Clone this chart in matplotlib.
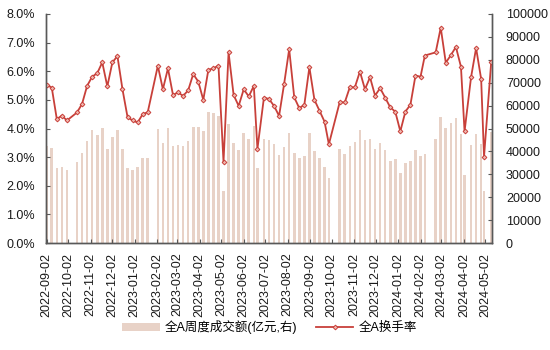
import matplotlib
matplotlib.use("Agg")
import matplotlib.pyplot as plt
import numpy as np
import pandas as pd

plt.rcParams['font.family'] = ['Liberation Sans', 'Noto Sans CJK SC']
plt.rcParams['axes.unicode_minus'] = False

# weekly data (last trading day of each week)
dates = pd.to_datetime([
    "2022-09-02", "2022-09-09", "2022-09-16", "2022-09-23", "2022-09-30",
    "2022-10-14", "2022-10-21", "2022-10-28", "2022-11-04", "2022-11-11",
    "2022-11-18", "2022-11-25", "2022-12-02", "2022-12-09", "2022-12-16",
    "2022-12-23", "2022-12-30", "2023-01-06", "2023-01-13", "2023-01-20",
    "2023-02-03", "2023-02-10", "2023-02-17", "2023-02-24", "2023-03-03",
    "2023-03-10", "2023-03-17", "2023-03-24", "2023-03-31", "2023-04-07",
    "2023-04-14", "2023-04-21", "2023-04-28", "2023-05-05", "2023-05-12",
    "2023-05-19", "2023-05-26", "2023-06-02", "2023-06-09", "2023-06-16",
    "2023-06-21", "2023-06-30", "2023-07-07", "2023-07-14", "2023-07-21",
    "2023-07-28", "2023-08-04", "2023-08-11", "2023-08-18", "2023-08-25",
    "2023-09-01", "2023-09-08", "2023-09-15", "2023-09-22", "2023-09-28",
    "2023-10-13", "2023-10-20", "2023-10-27", "2023-11-03", "2023-11-10",
    "2023-11-17", "2023-11-24", "2023-12-01", "2023-12-08", "2023-12-15",
    "2023-12-22", "2023-12-29", "2024-01-05", "2024-01-12", "2024-01-19",
    "2024-01-26", "2024-02-02", "2024-02-08", "2024-02-23", "2024-03-01",
    "2024-03-08", "2024-03-15", "2024-03-22", "2024-03-29", "2024-04-03",
    "2024-04-12", "2024-04-19", "2024-04-26", "2024-04-30", "2024-05-10",
])

# 全A周度成交额 (亿元, right axis)
volume = [
    42500, 41300, 32700, 33100, 32000,
    35500, 39100, 44700, 49300, 47200,
    50100, 40900, 46200, 49300, 41200,
    32700, 32000, 33100, 37300, 37300,
    49700, 43600, 50100, 42300, 43000,
    42300, 44700, 50500, 50800, 48700,
    57400, 56700, 55500, 22800, 51900,
    43600, 40700, 47900, 45300, 50900,
    32700, 45300, 45000, 43300, 38500,
    41800, 48200, 39500, 37100, 38100,
    47900, 40000, 37100, 33100, 28300,
    41000, 38900, 42400, 43900, 49200,
    44800, 45300, 41000, 43600, 40400,
    36000, 36800, 30500, 34900, 35600,
    40700, 38200, 38900, 45300, 55200,
    50100, 52300, 54500, 47500, 29500,
    42600, 47500, 43300, 22800, 48300,
]

# 全A换手率 (%, left axis)
turnover = [
    5.52, 5.43, 4.33, 4.45, 4.28,
    4.56, 4.86, 5.49, 5.81, 5.93,
    6.31, 5.47, 6.31, 6.53, 5.37,
    4.40, 4.28, 4.21, 4.50, 4.57,
    6.19, 5.37, 6.10, 5.17, 5.26,
    5.14, 5.33, 5.90, 5.64, 5.00,
    6.05, 6.10, 6.20, 2.83, 6.66,
    5.17, 4.79, 5.37, 5.12, 5.49,
    3.29, 5.08, 5.03, 4.79, 4.44,
    5.56, 6.77, 5.09, 4.71, 4.83,
    6.14, 5.00, 4.62, 4.24, 3.45,
    4.92, 4.91, 5.44, 5.44, 5.99,
    5.37, 5.79, 5.15, 5.41, 5.08,
    4.74, 4.59, 3.90, 4.59, 4.83,
    5.85, 5.81, 6.55, 6.66, 7.52,
    6.30, 6.56, 6.85, 6.16, 3.90,
    5.79, 6.81, 5.73, 3.02, 6.34,
]

# monthly ticks on the 2nd of each month
tick_dates = pd.date_range("2022-09-01", "2024-05-01", freq="MS") + pd.Timedelta(days=1)

bar_color = '#E8D2C7'
line_color = '#C8403A'
axis_color = '#595959'

fig = plt.figure(figsize=(5.5, 3.5), dpi=100)
ax1 = fig.add_axes([0.0836, 0.3057, 0.8109, 0.6543])
ax2 = ax1.twinx()

bars = ax2.bar(dates, volume, width=3.6, color=bar_color, label='全A周度成交额(亿元,右)')
line, = ax1.plot(dates, turnover, color=line_color, linewidth=1.3,
                 marker='D', markersize=2.4, markerfacecolor='#F0B8B0',
                 markeredgecolor=line_color, markeredgewidth=0.7,
                 label='全A换手率')

# line on top of the bars
ax1.set_zorder(ax2.get_zorder() + 1)
ax1.patch.set_visible(False)

ax1.set_xlim(pd.Timestamp("2022-09-01"), pd.Timestamp("2024-05-11"))
ax1.set_ylim(0, 8)
ax2.set_ylim(0, 100000)
ax1.set_yticks(np.arange(0, 8.1, 1))
ax1.set_yticklabels([f"{v:.1f}%" for v in np.arange(0, 8.1, 1)])
ax2.set_yticks(np.arange(0, 100001, 10000))
ax2.set_yticklabels([f"{int(v)}" for v in np.arange(0, 100001, 10000)])

ax1.set_xticks(tick_dates)
ax1.set_xticklabels([d.strftime("%Y-%m-%d") for d in tick_dates], rotation=90)

for ax in (ax1, ax2):
    ax.spines['top'].set_visible(False)
    for s in ('left', 'right', 'bottom'):
        ax.spines[s].set_color(axis_color)
        ax.spines[s].set_linewidth(1.0)
    ax.tick_params(direction='in', length=3, width=0.8, color=axis_color,
                   labelsize=9, labelcolor='#1a1a1a')
ax1.tick_params(axis='y', pad=8)
ax2.tick_params(axis='y', pad=10)
ax1.tick_params(axis='x', pad=7)

fig.legend(handles=[bars, line], loc='center', bbox_to_anchor=(0.49, 0.065),
           ncol=2, frameon=False, fontsize=9, handlelength=3.0,
           columnspacing=1.5, handletextpad=0.4)

fig.savefig("out.png", dpi=100)
